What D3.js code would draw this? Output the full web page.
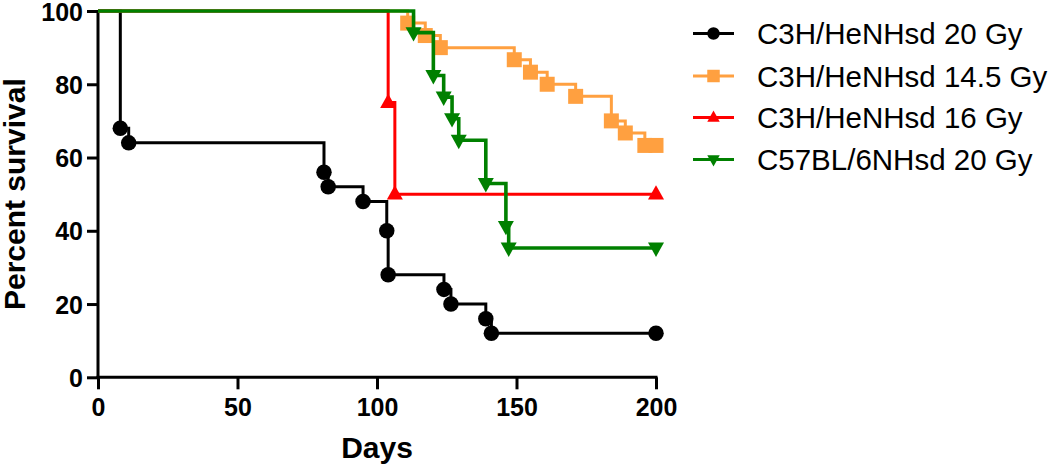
<!DOCTYPE html>
<html>
<head>
<meta charset="utf-8">
<script src="https://cdn.jsdelivr.net/npm/d3@7/dist/d3.min.js"></script>
<style>
  html, body { margin: 0; padding: 0; background: #fff; }
  svg { display: block; }
</style>
</head>
<body>
<svg id="chart" width="1050" height="465"></svg>
<script>
// ---- data ----
const seriesNames = ["C3H/HeNHsd 20 Gy", "C3H/HeNHsd 14.5 Gy", "C3H/HeNHsd 16 Gy", "C57BL/6NHsd 20 Gy"];
const seriesColors = ["#000000", "#FFA040", "#FF0000", "#008000"];
const seriesSymbols = ["circle", "square", "triangleUp", "triangleDown"];

const blackDays = [8, 11, 81, 82.5, 95, 103.5, 104, 124, 126.5, 139, 141, 200];
const blackSurv = [68, 64, 56, 52, 48, 40, 28, 24, 20, 16, 12, 12];

const orangeDays = [111, 117.3, 122.7, 149.2, 155, 161, 171.2, 184, 189, 196, 200];
const orangeSurv = [96.7, 93.3, 90, 86.7, 83.3, 80, 76.7, 70, 66.7, 63.3, 63.3];

const redDays = [104, 106.4, 200];
const redSurv = [75, 50, 50];

const greenDays = [113.1, 120.2, 123.9, 126.9, 129.3, 139, 146.2, 147.2, 200];
const greenSurv = [94.1, 82.4, 76.5, 70.6, 64.7, 52.9, 41.2, 35.3, 35.3];

const xTicks = [0, 50, 100, 150, 200];
const yTicks = [0, 20, 40, 60, 80, 100];
const xTitle = "Days";
const yTitle = "Percent survival";

const allDays = [blackDays, orangeDays, redDays, greenDays];
const allSurv = [blackSurv, orangeSurv, redSurv, greenSurv];
const lineWidths = [3, 3, 3, 3.6];

// ---- layout ----
const svg = d3.select("#chart");
const x = d3.scaleLinear().domain([0, 200]).range([98, 656]);
const y = d3.scaleLinear().domain([0, 100]).range([377.3, 11]);
const FONT = "'Liberation Sans', Arial, Helvetica, sans-serif";

// axes
const xAxis = svg.append("g")
  .attr("transform", `translate(0,${y(0)})`)
  .call(d3.axisBottom(x).tickValues(xTicks).tickSize(12).tickSizeOuter(0).tickPadding(9).tickFormat(d3.format("d")));
const yAxis = svg.append("g")
  .attr("transform", `translate(${x(0)},0)`)
  .call(d3.axisLeft(y).tickValues(yTicks).tickSize(11).tickSizeOuter(0).tickPadding(4).tickFormat(d3.format("d")));

[xAxis, yAxis].forEach(g => {
  g.select(".domain").attr("stroke", "#000").attr("stroke-width", 3);
  g.selectAll(".tick line").attr("stroke", "#000").attr("stroke-width", 3);
  g.selectAll(".tick text")
    .attr("fill", "#000")
    .style("font-family", FONT)
    .style("font-weight", "bold")
    .style("font-size", "25px");
});
yAxis.selectAll(".tick text").attr("dy", "0.36em");
xAxis.select(".domain").attr("d", `M${x(0) - 1.5},0H${x(200) + 1.5}`);
yAxis.select(".domain").attr("d", `M0,${y(100) - 1}V${y(0) + 1.5}`);

// axis titles
svg.append("text")
  .attr("x", (x(0) + x(200)) / 2)
  .attr("y", 458)
  .attr("text-anchor", "middle")
  .style("font-family", FONT)
  .style("font-weight", "bold")
  .style("font-size", "30px")
  .text(xTitle);

svg.append("text")
  .attr("transform", `translate(25,${(y(0) + y(100)) / 2}) rotate(-90)`)
  .attr("text-anchor", "middle")
  .style("font-family", FONT)
  .style("font-weight", "bold")
  .style("font-size", "30px")
  .text(yTitle);

// symbol helpers
function symbolPath(kind, s) {
  const h = s / 2;
  if (kind === "circle") {
    return `M${-h},0A${h},${h} 0 1,0 ${h},0A${h},${h} 0 1,0 ${-h},0Z`;
  }
  if (kind === "square") {
    return `M${-h},${-h}H${h}V${h}H${-h}Z`;
  }
  if (kind === "triangleUp") {
    const th = s * 0.9;
    return `M0,${-th * 0.62}L${h},${th * 0.38}L${-h},${th * 0.38}Z`;
  }
  if (kind === "triangleDown") {
    const th = s * 0.9;
    return `M0,${th * 0.62}L${h},${-th * 0.38}L${-h},${-th * 0.38}Z`;
  }
}
const symbolSizes = { circle: 15.5, square: 15, triangleUp: 16, triangleDown: 16 };

// KM step curves
const plot = svg.append("g");
allDays.forEach((days, i) => {
  const surv = allSurv[i];
  const pts = [[0, 100]];
  let prev = 100;
  days.forEach((d, j) => {
    pts.push([d, prev]);
    pts.push([d, surv[j]]);
    prev = surv[j];
  });
  const line = d3.line().x(p => x(p[0])).y(p => y(p[1]));
  const g = plot.append("g");
  g.append("path")
    .attr("d", line(pts))
    .attr("fill", "none")
    .attr("stroke", seriesColors[i])
    .attr("stroke-width", lineWidths[i])
    .attr("stroke-linejoin", "miter")
    .attr("stroke-linecap", "butt");
  g.selectAll("path.sym")
    .data(days.map((d, j) => [d, surv[j]]))
    .join("path")
    .attr("class", "sym")
    .attr("transform", p => `translate(${x(p[0])},${y(p[1])})`)
    .attr("d", symbolPath(seriesSymbols[i], symbolSizes[seriesSymbols[i]]))
    .attr("fill", seriesColors[i]);
});

// legend
const legendY = [33.5, 76, 117.5, 159.5];
const lg = svg.append("g");
seriesNames.forEach((name, i) => {
  const yy = legendY[i];
  lg.append("line")
    .attr("x1", 693).attr("x2", 734)
    .attr("y1", yy).attr("y2", yy)
    .attr("stroke", seriesColors[i])
    .attr("stroke-width", 3);
  lg.append("path")
    .attr("transform", `translate(713.5,${yy})`)
    .attr("d", symbolPath(seriesSymbols[i], 12.5))
    .attr("fill", seriesColors[i]);
  lg.append("text")
    .attr("x", 757)
    .attr("y", yy + 10.5)
    .style("font-family", FONT)
    .style("font-size", "29.5px")
    .attr("fill", "#000")
    .text(name);
});
</script>
</body>
</html>
